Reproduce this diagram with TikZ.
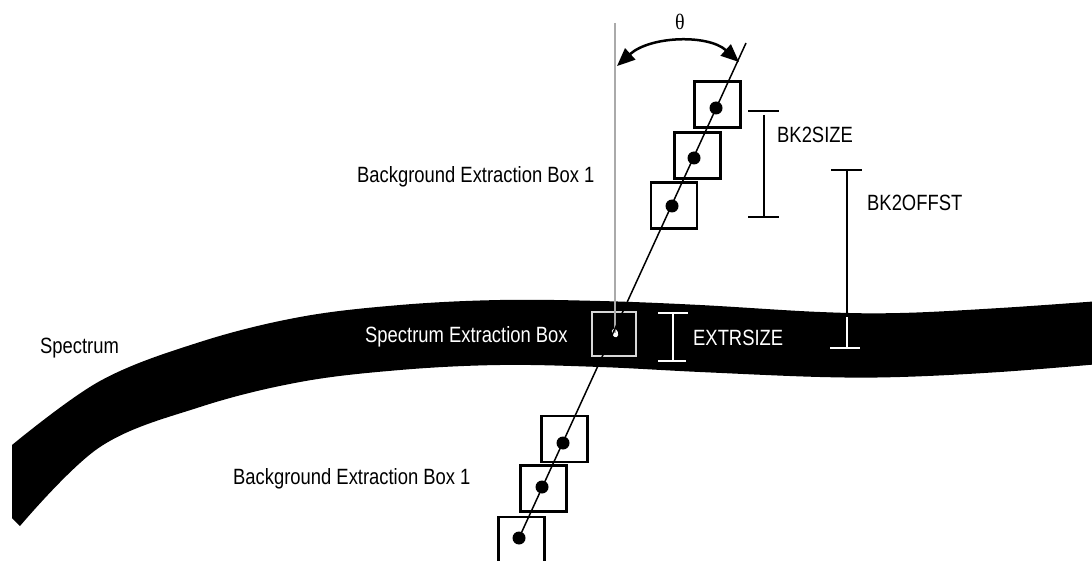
\documentclass[tikz,border=0pt]{standalone}
\usepackage{fontspec}
\setmainfont{Liberation Sans}
\newfontfamily\thetafont{Liberation Serif}
\usetikzlibrary{arrows.meta,shapes.geometric}
\definecolor{vgray}{RGB}{170,170,170}
\definecolor{boxgray}{RGB}{215,215,215}
\begin{document}
\begin{tikzpicture}[x=1pt,y=-1pt,
  lbl/.style={anchor=base west, inner sep=0pt, font=\fontsize{18.4}{22}\selectfont},
  bgbox/.style={draw=black, line width=2.7pt, minimum size=46pt, inner sep=0pt},
  bdot/.style={circle, fill=black, minimum size=13pt, inner sep=0pt},
  bar/.style={line width=2pt},
]
\useasboundingbox (0,0) rectangle (1092,561);
\clip (0,0) rectangle (1092,561);

% spectrum band
\fill[black] plot[smooth, tension=0.6] coordinates {(12,445) (100,381) (200,342) (300,317) (400,305) (500,300) (600,301) (700,305) (820,312) (900,313) (1000,308) (1100,301)}
  -- plot[smooth, tension=0.6] coordinates {(1100,364) (1000,372) (900,377) (820,377) (700,372) (600,367) (500,365) (400,370) (300,382) (200,407) (100,447) (20,526)}
  -- (12,518) -- cycle;

% spectrum extraction box
\node[draw=boxgray, line width=2pt, minimum size=44pt, inner sep=0pt] (sbox) at (614,333.5) {};
\node[ellipse, fill=white, minimum width=6pt, minimum height=9pt, inner sep=0pt, rotate=20] (sdot) at (615,333) {};

% vertical reference line
\coordinate (vtop) at (615,23);
\draw[vgray, line width=1.5pt] (vtop) -- (sdot.center);

% background boxes
\node[bgbox] (u1) at (717.5,104.5) {};
\node[bgbox] (u2) at (697.5,155.5) {};
\node[bgbox] (u3) at (674,205.5) {};
\node[bgbox] (l1) at (564.5,439) {};
\node[bgbox] (l2) at (543.5,488.5) {};
\node[bgbox] (l3) at (521.5,540) {};

% tilted line
\coordinate (ltop) at (746,43);
\node[bdot] (d1) at (716,108) {};
\node[bdot] (d2) at (694,158) {};
\node[bdot] (d3) at (672,206) {};
\node[bdot] (d4) at (563,443) {};
\node[bdot] (d5) at (542,487) {};
\node[bdot] (d6) at (519,538) {};
\draw[black, line width=1.5pt] (ltop) -- (d6.center);

% theta arc
\coordinate (arcL) at (617,66);
\coordinate (arcR) at (739,62);
\draw[line width=2.5pt, {Triangle[length=18pt,width=15pt]}-{Triangle[length=18pt,width=15pt]}] (arcL) .. controls (650,36) and (708,34) .. (arcR);
\node[anchor=base, inner sep=0pt, font=\thetafont\fontsize{20}{22}\selectfont] (theta) at (680,30) {\scalebox{1}[1.1]{θ}};

% BK2SIZE bar
\coordinate (a1) at (748,111); \coordinate (a2) at (779,111);
\coordinate (a3) at (764,115); \coordinate (a4) at (764,217);
\coordinate (a5) at (748,217); \coordinate (a6) at (779,217);
\draw[bar] (a1) -- (a2) (a3) -- (a4) (a5) -- (a6);

% BK2OFFST bar
\coordinate (b1) at (831,170); \coordinate (b2) at (862,170);
\coordinate (b3) at (847,170); \coordinate (b4) at (847,314);
\coordinate (b5) at (847,317); \coordinate (b6) at (847,348);
\coordinate (b7) at (830,348); \coordinate (b8) at (860,348);
\draw[bar] (b1) -- (b2) (b3) -- (b4);
\draw[bar, white] (b5) -- (b6) (b7) -- (b8);

% EXTRSIZE bar
\coordinate (e1) at (658,313); \coordinate (e2) at (688,313);
\coordinate (e3) at (673,313); \coordinate (e4) at (673,361);
\coordinate (e5) at (658,361); \coordinate (e6) at (686,361);
\draw[bar, white] (e1) -- (e2) (e3) -- (e4) (e5) -- (e6);

% labels
\node[lbl] (tb1) at (357,183) {\scalebox{1}[1.2]{Background Extraction Box 1}};
\node[lbl] (tb2) at (233,484) {\scalebox{1}[1.2]{Background Extraction Box 1}};
\node[lbl] (tsp) at (40,353) {\scalebox{1}[1.2]{Spectrum}};
\node[lbl, text=white] (tse) at (365,342) {\scalebox{1}[1.2]{Spectrum Extraction Box}};
\node[lbl] (tbs) at (777,143) {\scalebox{1}[1.2]{BK2SIZE}};
\node[lbl] (tbo) at (867,211) {\scalebox{1}[1.2]{BK2OFFST}};
\node[lbl, text=white] (tex) at (693,345) {\scalebox{1}[1.2]{EXTRSIZE}};
\end{tikzpicture}
\end{document}
